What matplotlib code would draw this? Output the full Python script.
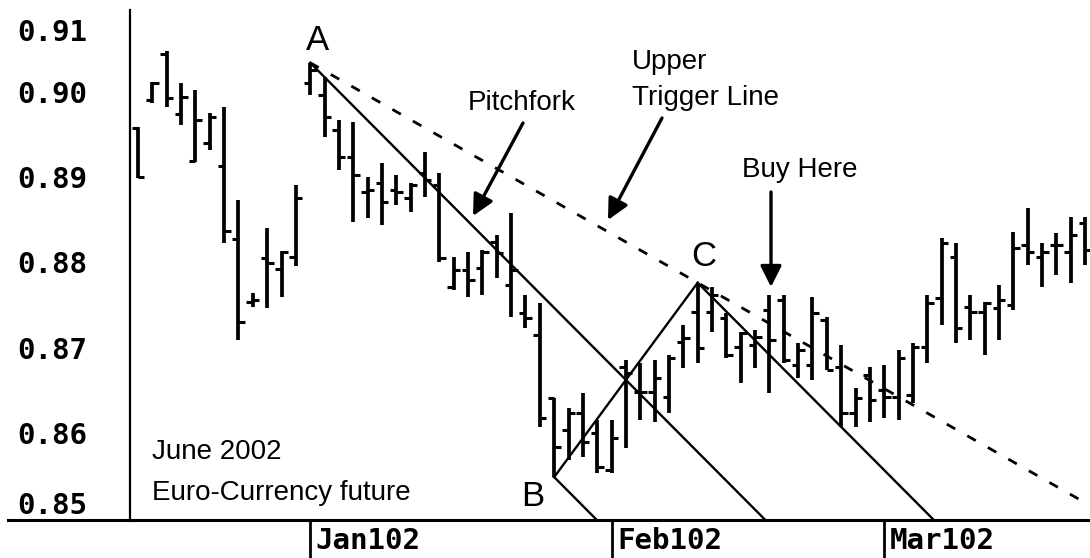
import numpy as np
import matplotlib
matplotlib.use("Agg")
import matplotlib.pyplot as plt
from matplotlib.lines import Line2D
from matplotlib.transforms import ScaledTranslation

# June 2002 Euro-Currency future, daily bars (index = trading day)
opens = [0.8957, 0.8990, 0.9044, 0.8974, 0.8919, 0.8940, 0.8913, 0.8827, 0.8753, 0.8805,
         0.8792, 0.8806, 0.9010, 0.8996, 0.8955, 0.8923, 0.8882, 0.8893, 0.8885, 0.8875,
         0.8905, 0.8891, 0.8771, 0.8791, 0.8793, 0.8824, 0.8773, 0.8740, 0.8715, 0.8641,
         0.8603, 0.8623, 0.8600, 0.8556, 0.8677, 0.8648, 0.8648, 0.8642, 0.8706, 0.8742,
         0.8742, 0.8735, 0.8701, 0.8703, 0.8744, 0.8756, 0.8679, 0.8679, 0.8732, 0.8677,
         0.8623, 0.8668, 0.8650, 0.8642, 0.8644, 0.8701, 0.8758, 0.8806, 0.8748, 0.8742,
         0.8746, 0.8750, 0.8820, 0.8806, 0.8820, 0.8812, 0.8846]
highs = [0.8959, 0.9011, 0.9048, 0.9010, 0.9002, 0.8975, 0.8982, 0.8873, 0.8764, 0.8840,
         0.8813, 0.8891, 0.9034, 0.9017, 0.8967, 0.8965, 0.8900, 0.8916, 0.8902, 0.8893,
         0.8929, 0.8905, 0.8806, 0.8812, 0.8814, 0.8832, 0.8858, 0.8762, 0.8752, 0.8641,
         0.8629, 0.8647, 0.8615, 0.8615, 0.8685, 0.8682, 0.8685, 0.8691, 0.8726, 0.8776,
         0.8771, 0.8740, 0.8718, 0.8721, 0.8762, 0.8762, 0.8705, 0.8759, 0.8736, 0.8703,
         0.8652, 0.8677, 0.8679, 0.8697, 0.8705, 0.8762, 0.8828, 0.8823, 0.8762, 0.8753,
         0.8773, 0.8835, 0.8864, 0.8823, 0.8834, 0.8853, 0.8853]
lows = [0.8899, 0.8987, 0.8982, 0.8961, 0.8918, 0.8932, 0.8823, 0.8709, 0.8748, 0.8746,
        0.8759, 0.8796, 0.8996, 0.8947, 0.8908, 0.8847, 0.8852, 0.8844, 0.8867, 0.8859,
        0.8877, 0.8800, 0.8767, 0.8759, 0.8762, 0.8782, 0.8736, 0.8723, 0.8607, 0.8548,
        0.8568, 0.8572, 0.8553, 0.8553, 0.8582, 0.8615, 0.8613, 0.8623, 0.8676, 0.8682,
        0.8718, 0.8688, 0.8658, 0.8676, 0.8647, 0.8682, 0.8664, 0.8662, 0.8674, 0.8607,
        0.8607, 0.8613, 0.8617, 0.8615, 0.8635, 0.8682, 0.8726, 0.8705, 0.8709, 0.8691,
        0.8709, 0.8744, 0.8797, 0.8771, 0.8785, 0.8776, 0.8797]
closes = [0.8900, 0.9010, 0.8993, 0.8994, 0.8967, 0.8970, 0.8837, 0.8730, 0.8756, 0.8799,
          0.8812, 0.8875, 0.9026, 0.8970, 0.8923, 0.8902, 0.8885, 0.8871, 0.8882, 0.8891,
          0.8896, 0.8805, 0.8791, 0.8779, 0.8812, 0.8811, 0.8791, 0.8735, 0.8617, 0.8583,
          0.8623, 0.8589, 0.8560, 0.8594, 0.8670, 0.8648, 0.8664, 0.8688, 0.8711, 0.8699,
          0.8762, 0.8691, 0.8717, 0.8712, 0.8709, 0.8685, 0.8697, 0.8740, 0.8674, 0.8623,
          0.8641, 0.8638, 0.8642, 0.8688, 0.8701, 0.8752, 0.8823, 0.8723, 0.8742, 0.8752,
          0.8756, 0.8817, 0.8812, 0.8812, 0.8820, 0.8832, 0.8814]

month_idx = [12, 33, 52]
month_labels = ["Jan102", "Feb102", "Mar102"]
price_ticks = [0.8518, 0.86, 0.87, 0.88, 0.89, 0.90, 0.9072]
price_labels = ["0.85", "0.86", "0.87", "0.88", "0.89", "0.90", "0.91"]

# pitchfork pivots: A = top (bar 12 high), B = low (bar 29), C = reaction high (bar 39)
iA, iB, iC = 12, 29, 39

W, H = 1090, 558
fig = plt.figure(figsize=(W / 100, H / 100), dpi=100)
ax = fig.add_axes([130 / W, 38 / H, 960 / W, 510 / H])

x = np.arange(len(opens))
ax.vlines(x, lows, highs, color="black", lw=2.7)
ax.hlines(opens, x - 0.45, x, color="black", lw=2.2)
ax.hlines(closes, x, x + 0.45, color="black", lw=2.2)

ax.set_xlim(-0.56, 66.34)
ax.set_ylim(0.84977, 0.90959)

A = np.array([iA, highs[iA]])
B = np.array([iB, lows[iB]])
C = np.array([iC, highs[iC]])
M = (B + C) / 2
slope = (M[1] - A[1]) / (M[0] - A[0])
far = 80
for p in (A, B, C):
    ax.plot([p[0], far], [p[1], p[1] + slope * (far - p[0])], color="black", lw=1.7)
ax.plot([B[0], C[0]], [B[1], C[1]], color="black", lw=1.7)
s2 = (C[1] - A[1]) / (C[0] - A[0])
ax.plot([A[0], far], [A[1], A[1] + s2 * (far - A[0])], color="black", lw=2,
        linestyle=(0, (3.5, 5)))

for s in ("top", "right"):
    ax.spines[s].set_visible(False)
ax.spines["left"].set_linewidth(1.6)
ax.spines["bottom"].set_linewidth(2.2)
fig.add_artist(Line2D([8 / W, 131 / W], [38 / H, 38 / H], color="black", lw=2.2))

mono = dict(family="DejaVu Sans Mono", weight="bold", size=21)
ax.set_yticks(price_ticks)
ax.set_yticklabels(price_labels, fontdict=mono)
ax.tick_params(axis="y", length=0, pad=31)

ax.set_xticks(month_idx)
ax.set_xticklabels(month_labels, fontdict=mono, ha="left")
ax.tick_params(axis="x", length=27, width=2, direction="out", pad=-22)
for lab in ax.get_xticklabels():
    lab.set_transform(lab.get_transform() + ScaledTranslation(4 / 72, 0, fig.dpi_scale_trans))

def fpos(px, py):
    return (px / W, 1 - py / H)

sans = dict(family="Liberation Sans", size=20, color="black")
fig.text(*fpos(318, 41), "A", ha="center", va="center", family="Liberation Sans", size=25)
fig.text(*fpos(533, 497), "B", ha="center", va="center", family="Liberation Sans", size=25)
fig.text(*fpos(704, 257), "C", ha="center", va="center", family="Liberation Sans", size=25)
fig.text(*fpos(468, 103), "Pitchfork", ha="left", va="center", **sans)
fig.text(*fpos(632, 62), "Upper", ha="left", va="center", **sans)
fig.text(*fpos(632, 98), "Trigger Line", ha="left", va="center", **sans)
fig.text(*fpos(742, 170), "Buy Here", ha="left", va="center", **sans)
fig.text(*fpos(152, 452), "June 2002", ha="left", va="center", **sans)
fig.text(*fpos(152, 493), "Euro-Currency future", ha="left", va="center", **sans)

arrow = dict(arrowstyle="-|>", color="black", lw=2.4, mutation_scale=32, shrinkA=0, shrinkB=0)
for tail, tip in [((523, 123), (473, 216)), ((662, 118), (608, 220)), ((771, 192), (771, 287))]:
    fig.add_artist(matplotlib.patches.FancyArrowPatch(fpos(*tail), fpos(*tip),
                                                      transform=fig.transFigure, **arrow))

fig.savefig("out.png", dpi=100)
